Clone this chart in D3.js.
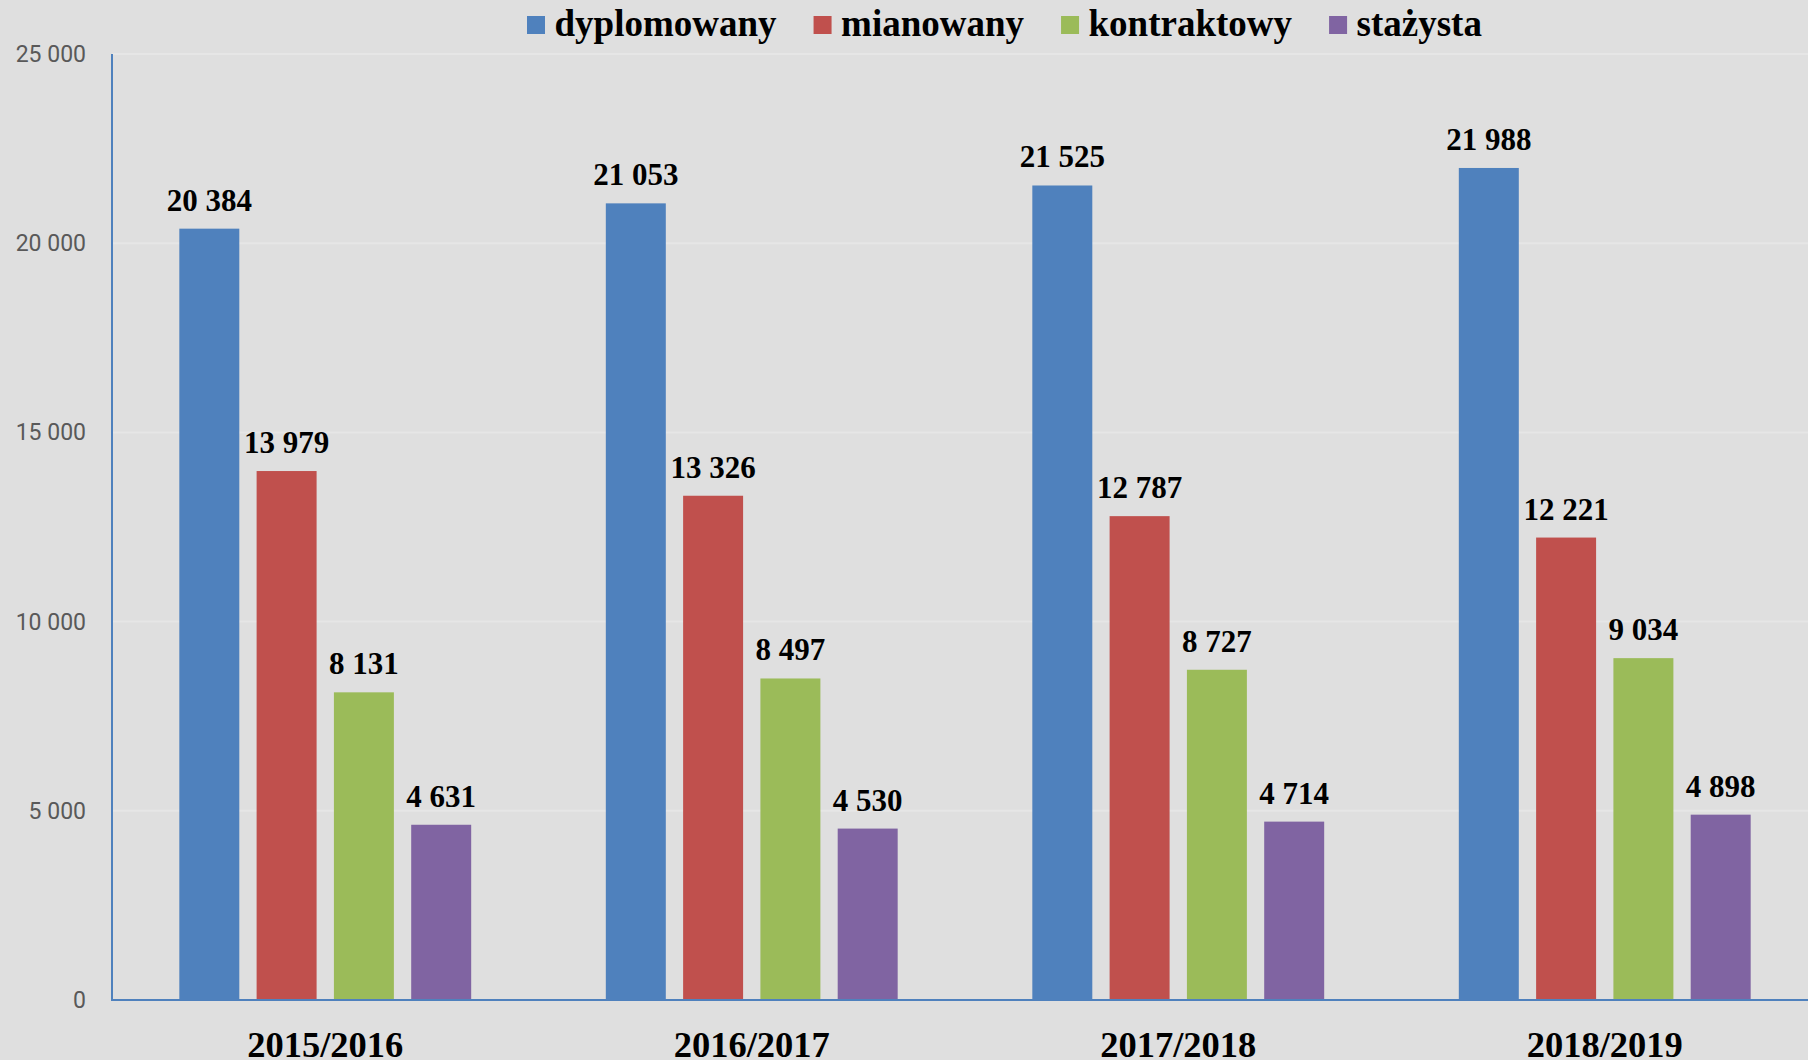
<!DOCTYPE html>
<html>
<head>
<meta charset="utf-8">
<script src="https://cdn.jsdelivr.net/npm/d3@7"></script>
<style>
  html, body { margin: 0; padding: 0; background: #dfdfdf; }
  svg { display: block; }
</style>
</head>
<body>
<svg id="chart" width="1808" height="1060"></svg>
<script>
const categories = ["2015/2016", "2016/2017", "2017/2018", "2018/2019"];
const seriesNames = ["dyplomowany", "mianowany", "kontraktowy", "stażysta"];
const dyplomowany = [20384, 21053, 21525, 21988];
const mianowany = [13979, 13326, 12787, 12221];
const kontraktowy = [8131, 8497, 8727, 9034];
const stazysta = [4631, 4530, 4714, 4898];
const yTicks = [0, 5000, 10000, 15000, 20000, 25000];
const colors = ["#4f81bd", "#c0504d", "#9bbb59", "#8064a2"];

const seriesValues = [dyplomowany, mianowany, kontraktowy, stazysta];

const W = 1808, H = 1060;
const svg = d3.select("#chart");
svg.append("rect").attr("width", W).attr("height", H).attr("fill", "#dfdfdf");

const locale = d3.formatLocale({ decimal: ",", thousands: " ", grouping: [3], currency: ["", ""] });
const fmt = locale.format(",d");

const x0 = d3.scaleBand().domain(categories).range([112, 1818]).paddingInner(0).paddingOuter(0);
const x1 = d3.scaleBand().domain(seriesNames).range([0, x0.bandwidth()]).paddingInner(0.224).paddingOuter(0.871);
const y = d3.scaleLinear().domain([0, 25000]).range([1000, 54]);

// gridlines
svg.append("g").selectAll("line").data(yTicks.filter(d => d > 0)).join("line")
  .attr("x1", 112).attr("x2", W)
  .attr("y1", d => y(d)).attr("y2", d => y(d))
  .attr("stroke", "#e6e6e6").attr("stroke-width", 2);

// y tick labels
svg.append("g").selectAll("text").data(yTicks).join("text")
  .attr("x", 86).attr("y", d => y(d))
  .attr("dy", "0.35em")
  .attr("text-anchor", "end")
  .attr("font-family", "Roboto, 'Open Sans', sans-serif")
  .attr("font-size", 23)
  .attr("fill", "#595959")
  .text(d => fmt(d));

// bars
const rows = [];
categories.forEach((c, i) => {
  seriesNames.forEach((s, j) => rows.push({ cat: c, series: s, value: seriesValues[j][i], color: colors[j] }));
});

const g = svg.append("g");
g.selectAll("rect").data(rows).join("rect")
  .attr("x", d => x0(d.cat) + x1(d.series))
  .attr("y", d => y(d.value))
  .attr("width", x1.bandwidth())
  .attr("height", d => y(0) - y(d.value))
  .attr("fill", d => d.color);

g.selectAll("text").data(rows).join("text")
  .attr("x", d => x0(d.cat) + x1(d.series) + x1.bandwidth() / 2)
  .attr("y", d => y(d.value) - 18)
  .attr("text-anchor", "middle")
  .attr("font-family", "'Liberation Serif', 'Times New Roman', serif")
  .attr("font-weight", "bold")
  .attr("font-size", 31)
  .attr("fill", "#000")
  .text(d => fmt(d.value));

// axes lines
svg.append("line").attr("x1", 112).attr("x2", 112).attr("y1", 54).attr("y2", 1000)
  .attr("stroke", "#4f81bd").attr("stroke-width", 2);
svg.append("line").attr("x1", 111).attr("x2", W).attr("y1", 1000).attr("y2", 1000)
  .attr("stroke", "#4f81bd").attr("stroke-width", 2);

// category labels
svg.append("g").selectAll("text").data(categories).join("text")
  .attr("x", d => x0(d) + x0.bandwidth() / 2)
  .attr("y", 1057)
  .attr("text-anchor", "middle")
  .attr("font-family", "'Liberation Serif', 'Times New Roman', serif")
  .attr("font-weight", "bold")
  .attr("font-size", 36.5)
  .attr("fill", "#000")
  .text(d => d);

// legend
const legend = svg.append("g");
let lx = 527;
seriesNames.forEach((s, j) => {
  legend.append("rect").attr("x", lx).attr("y", 16).attr("width", 18).attr("height", 18).attr("fill", colors[j]);
  const t = legend.append("text").attr("x", lx + 27.5).attr("y", 36)
    .attr("font-family", "'Liberation Serif', 'Times New Roman', serif")
    .attr("font-weight", "bold")
    .attr("font-size", 37)
    .attr("fill", "#000")
    .text(s);
  lx = lx + 27.5 + t.node().getComputedTextLength() + 37;
});
</script>
</body>
</html>
